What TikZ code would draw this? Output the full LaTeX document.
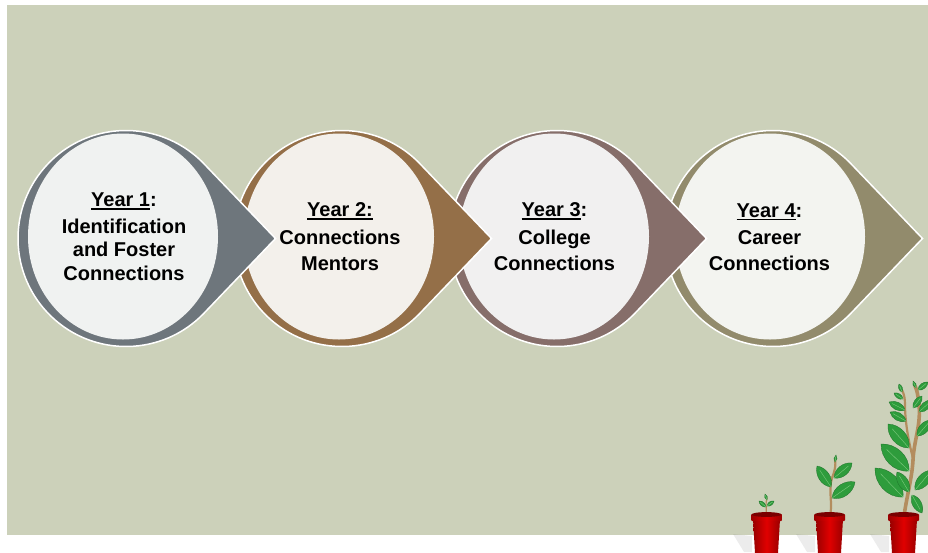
\documentclass[tikz,border=0pt]{standalone}
\usepackage{fontspec}
\setmainfont{Liberation Sans}
\usetikzlibrary{calc}
\definecolor{bg}{HTML}{CCD1BA}
\definecolor{accA}{HTML}{6E767C}
\definecolor{accB}{HTML}{946F48}
\definecolor{accC}{HTML}{866E6A}
\definecolor{accD}{HTML}{928B6C}
\definecolor{litA}{HTML}{F0F2F1}
\definecolor{litB}{HTML}{F3F0EB}
\definecolor{litC}{HTML}{F1F0F0}
\definecolor{litD}{HTML}{F3F4F0}
\definecolor{leafg}{HTML}{2E9C3C}
\definecolor{leafd}{HTML}{1D7229}
\definecolor{leafl}{HTML}{7FCB7F}
\definecolor{stemc}{HTML}{B38D5E}
\definecolor{potred}{HTML}{E00000}
\definecolor{potdark}{HTML}{9A0000}
\definecolor{potin}{HTML}{7A0000}
\newcommand\myul[1]{\setbox0=\hbox{#1}\rlap{\rule[-3pt]{\wd0}{1.4pt}}\box0}
\newcommand\tear[4]{%
  \coordinate (#4c) at (#1,238.5);
  \coordinate (#4t) at (#1+149.5,238.5);
  \filldraw[fill=#2, draw=white, line width=1.5pt, line join=miter]
    (#4t) -- ([shift={(43.75:108)}]#4c) arc[start angle=43.75, end angle=316.25, radius=108] -- cycle;
  \fill[#3] (#1-3,236.5) ellipse[x radius=95, y radius=103];
}
\newcommand\leaf[2]{%
  \filldraw[fill=leafg, draw=leafd, line width=0.3pt]
    (#1) .. controls ($(#1)!0.4!50:(#2)$) and ($(#1)!0.8!20:(#2)$) .. (#2)
    .. controls ($(#1)!0.8!-20:(#2)$) and ($(#1)!0.4!-50:(#2)$) .. (#1) -- cycle;
  \draw[leafl, line width=0.4pt] (#1) -- ($(#1)!0.8!(#2)$);
}
\newcommand\pot[1]{%
  \fill[gray, opacity=0.15] (#1,536) -- (#1,552) -- (#1-8,552) -- (#1-19,534) -- cycle;
  \shade[left color=potdark, right color=potdark, middle color=potred]
    (#1+1,519) -- (#1+28,519) -- (#1+26,553) -- (#1+3,553) -- cycle;
  \shade[left color=potdark, right color=potdark, middle color=potred, rounded corners=1pt]
    (#1-1,514) rectangle (#1+30,521);
  \fill[potin] (#1+14.5,514.5) ellipse[x radius=15, y radius=2.4];
}
\begin{document}
\begin{tikzpicture}[x=1pt,y=-1pt,
  txt/.style={font=\fontsize{20}{24}\selectfont\bfseries, inner sep=0pt, text=black, anchor=base},
  stem/.style={draw=stemc, line cap=round}]
\useasboundingbox (0,0) rectangle (928,552);
\clip (0,0) rectangle (928,552);
\fill[bg] (7,5) rectangle (928,535);

% teardrops, drawn right to left so each tip lies on the next circle
\tear{773}{accD}{litD}{s4}
\tear{557}{accC}{litC}{s3}
\tear{342}{accB}{litB}{s2}
\tear{126}{accA}{litA}{s1}

% texts
\node[txt] (t1a) at (124,206.7) {\myul{Year 1}:};
\node[txt] (t1b) at (124,233.3) {Identification};
\node[txt] (t1c) at (124,256.7) {and Foster};
\node[txt] (t1d) at (124,280) {Connections};

\node[txt] (t2a) at (340,216.5) {\myul{Year 2:}};
\node[txt] (t2b) at (340,244.5) {Connections};
\node[txt] (t2c) at (340,270) {Mentors};

\node[txt] (t3a) at (554.5,216.5) {\myul{Year 3}:};
\node[txt] (t3b) at (554.5,244) {College};
\node[txt] (t3c) at (554.5,270.7) {Connections};

\node[txt] (t4a) at (769.5,217) {\myul{Year 4}:};
\node[txt] (t4b) at (769.5,244.5) {Career};
\node[txt] (t4c) at (769.5,270.7) {Connections};

% plant 1
\draw[stem, line width=1.2pt] (766,515) .. controls (767,508) and (765,503) .. (767,498);
\leaf{766,507}{759,501}
\leaf{767,506}{774,501}
\leaf{767,500}{765,494}

% plant 2
\draw[stem, line width=2.2pt] (830,516) .. controls (833,503) and (828,490) .. (832,478) .. controls (835,470) and (836,466) .. (835,459);
\leaf{831,487}{817,466}
\leaf{834,478}{852,463}
\leaf{832,498}{855,482}
\leaf{835,462}{836,455}

% plant 3
\draw[stem, line width=3.6pt] (904,516) .. controls (907,495) and (912,478) .. (913,460) .. controls (914,440) and (921,425) .. (919,405) .. controls (918,395) and (917,390) .. (915,386);
\draw[stem, line width=2.2pt] (913,458) .. controls (908,440) and (905,420) .. (905,405) .. controls (905,398) and (904,394) .. (902,390);
\leaf{903,497}{875,468}
\leaf{909,471}{881,444}
\leaf{909,448}{888,424}
\leaf{906,421}{890,412}
\leaf{905,410}{889,402}
\leaf{903,399}{894,393}
\leaf{909,492}{897,472}
\leaf{913,408}{922,396}
\leaf{918,390}{928,382}
\leaf{917,436}{931,420}
\leaf{919,412}{932,400}
\leaf{915,490}{932,470}
\leaf{912,495}{922,513}
\leaf{902,392}{899,384}
\leaf{916,388}{913,381}

% pots
\pot{752}
\pot{815}
\pot{889}
\end{tikzpicture}
\end{document}
